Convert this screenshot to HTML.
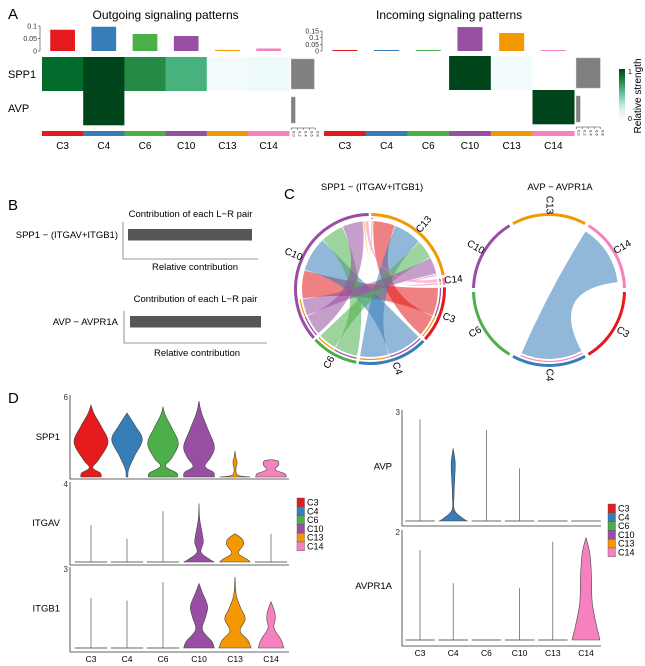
<!DOCTYPE html>
<html><head><meta charset="utf-8"><style>
html,body{margin:0;padding:0;background:#fff;}
svg{display:block;font-family:"Liberation Sans",Arial,sans-serif;}
</style></head><body>
<svg id="fig" width="645" height="666" viewBox="0 0 645 666" xmlns="http://www.w3.org/2000/svg">
<defs>
<linearGradient id="gstr" x1="0" y1="0" x2="0" y2="1">
<stop offset="0" stop-color="#00441b"/><stop offset="0.25" stop-color="#238b45"/><stop offset="0.5" stop-color="#66c2a4"/><stop offset="0.75" stop-color="#ccece6"/><stop offset="1" stop-color="#f7fcfd"/>
</linearGradient>
</defs>
</svg>
<script>
// ---------- data ----------
const clusters=['C3','C4','C6','C10','C13','C14'];
const clusterColors=['#e41a1c','#377eb8','#4daf4a','#984ea3','#f39800','#f781bf'];
const pathways=['SPP1','AVP'];
const outBarValues=[0.085,0.097,0.068,0.060,0.003,0.010];
const inBarValues=[0.002,0.002,0.002,0.180,0.135,0.002];
const outBarTicks=[0,0.05,0.1];
const inBarTicks=[0,0.05,0.1,0.15];
const outHeatSPP1=[0.88,1,0.75,0.6,0.02,0.06];
const outHeatAVP=[0,1,0,0,0,0];
const inHeatSPP1=[0,0,0,1,0.02,0];
const inHeatAVP=[0,0,0,0,0,1];
const outRowTotals=[0.46,0.08];
const inRowTotals=[0.48,0.08];
const lrPairs=['SPP1 − (ITGAV+ITGB1)','AVP − AVPR1A'];
const lrContribution=[1,1];
const chordOrder=['C13','C14','C3','C4','C6','C10'];
const chordSrc=['C3','C3','C4','C4','C6','C6','C10','C10','C13','C14','C14'];
const chordTgt=['C10','C13','C10','C13','C10','C13','C10','C13','C10','C10','C13'];
const chordVal=[0.045,0.035,0.055,0.045,0.037,0.030,0.033,0.027,0.003,0.006,0.004];
const avpOrder=['C13','C14','C3','C4','C6','C10'];
const avpSectorSize=[1,1,1,1,1,1];
const avpSrc=['C4'];
const avpTgt=['C14'];
const avpVal=[1];
const spp1Violins=[
 [[0,0.6],[0.3,0.55],[0.7,0.1],[1.3,0.45],[2.6,1.0],[3.8,0.6],[4.7,0.2],[5.4,0]],
 [[0,0.05],[0.6,0.1],[1.6,0.45],[2.8,0.9],[3.8,0.5],[4.8,0]],
 [[0,0.85],[0.3,0.8],[0.8,0.15],[1.4,0.5],[2.5,0.9],[3.6,0.55],[4.6,0.15],[5.25,0]],
 [[0,0.9],[0.35,0.85],[0.8,0.35],[1.5,0.7],[2.3,0.9],[3.5,0.55],[4.8,0.15],[5.7,0]],
 [[0,0.9],[0.12,0.2],[0.5,0.05],[1.1,0.12],[1.5,0.05],[1.95,0]],
 [[0,0.9],[0.25,0.8],[0.55,0.25],[0.9,0.45],[1.2,0.4],[1.3,0]]];
const itgavViolins=[
 [[0,0.95],[0.04,0.03],[1.7,0.015],[1.9,0]],
 [[0,0.95],[0.04,0.03],[1.1,0.015],[1.2,0]],
 [[0,0.95],[0.04,0.03],[2.4,0.015],[2.6,0]],
 [[0,0.9],[0.15,0.6],[0.5,0.12],[1.0,0.25],[1.4,0.2],[2.2,0.04],[3.0,0]],
 [[0,0.9],[0.15,0.7],[0.45,0.2],[0.9,0.5],[1.2,0.4],[1.45,0]],
 [[0,0.95],[0.04,0.03],[1.3,0.015],[1.45,0]]];
const itgb1Violins=[
 [[0,0.95],[0.04,0.03],[1.7,0.015],[1.9,0]],
 [[0,0.95],[0.04,0.03],[1.6,0.015],[1.8,0]],
 [[0,0.95],[0.04,0.03],[2.3,0.015],[2.5,0]],
 [[0,0.9],[0.25,0.75],[0.7,0.2],[1.2,0.4],[1.6,0.5],[2.1,0.2],[2.45,0]],
 [[0,0.95],[0.3,0.75],[0.65,0.3],[1.1,0.6],[1.5,0.35],[2.0,0.08],[2.7,0]],
 [[0,0.75],[0.3,0.6],[0.75,0.18],[1.1,0.25],[1.4,0.2],[1.75,0]]];
const avpViolins=[
 [[0,0.95],[0.04,0.03],[2.6,0.015],[2.8,0]],
 [[0,0.9],[0.08,0.6],[0.3,0.08],[0.7,0.05],[1.2,0.1],[1.6,0.13],[2.0,0]],
 [[0,0.95],[0.04,0.03],[2.3,0.015],[2.5,0]],
 [[0,0.95],[0.04,0.03],[1.3,0.015],[1.45,0]],
 [[0,0.95],[0.02,0]],
 [[0,0.95],[0.02,0]]];
const avpr1aViolins=[
 [[0,0.95],[0.03,0.03],[1.5,0.015],[1.67,0]],
 [[0,0.95],[0.03,0.03],[0.95,0.015],[1.05,0]],
 [[0,0.95],[0.02,0]],
 [[0,0.95],[0.03,0.03],[0.86,0.015],[0.96,0]],
 [[0,0.95],[0.03,0.03],[1.7,0.015],[1.82,0]],
 [[0,0.9],[0.3,0.65],[0.7,0.4],[1.2,0.35],[1.6,0.25],[1.9,0]]];

// ---------- helpers ----------
const NS='http://www.w3.org/2000/svg';
const svg=document.getElementById('fig');
function mk(tag,attrs,parent){const e=document.createElementNS(NS,tag);for(const k in attrs)e.setAttribute(k,attrs[k]);(parent||svg).appendChild(e);return e;}
function txt(s,attrs,parent){const e=mk('text',attrs,parent);e.textContent=s;return e;}
const heatStops=['#f7fcfd','#e5f5f9','#ccece6','#99d8c9','#66c2a4','#41ae76','#238b45','#006d2c','#00441b'];
function hex(c){return [1,3,5].map(i=>parseInt(c.substr(i,2),16));}
function heatColor(v){if(v<=0)return '#ffffff';const t=v*(heatStops.length-1);const i=Math.min(Math.floor(t),heatStops.length-2);const f=t-i;const a=hex(heatStops[i]),b=hex(heatStops[i+1]);return 'rgb('+a.map((x,k)=>Math.round(x+(b[k]-x)*f)).join(',')+')';}
function colorOf(c){return clusterColors[clusters.indexOf(c)];}

// ---------- letters ----------
[['A',8,19],['B',8,210],['C',284,199],['D',8,403]].forEach(l=>{
 const t=txt(l[0],{x:l[1],y:l[2],'font-size':15,fill:'#000'});
 
 
});

// ---------- panel A ----------
function heatPanel(cfg){
 const g=mk('g',{});
 
 
 const t=txt(cfg.title,{x:cfg.x0+cfg.colW*3,y:19,'font-size':12,'text-anchor':'middle'},g);
 
 
 const by=v=>51-v*cfg.barScale;
 const ax=mk('line',{x1:cfg.x0-2,x2:cfg.x0-2,y1:by(cfg.ticks[cfg.ticks.length-1]),y2:51,stroke:'#555','stroke-width':0.7},g);
 
 
 cfg.ticks.forEach(v=>{
  const tl=txt(String(v),{x:cfg.x0-5,y:by(v)+2.5,'font-size':7,'text-anchor':'end',fill:'#333'},g);
  
  
  const tk=mk('line',{x1:cfg.x0-4,x2:cfg.x0-2,y1:by(v),y2:by(v),stroke:'#555','stroke-width':0.7},g);
  
  
 });
 clusters.forEach((c,i)=>{
  const v=cfg.bars[i];const h=Math.max(v*cfg.barScale,1);
  const b=mk('rect',{x:cfg.x0+i*cfg.colW+cfg.colW*0.2,y:51-h,width:cfg.colW*0.6,height:h,fill:clusterColors[i]},g);
  
  
 });
 const rows=[cfg.heat1,cfg.heat2];
 rows.forEach((row,r)=>{
  const y=cfg.rowY+r*cfg.rowH;
  row.forEach((v,i)=>{
   const cell=mk('rect',{x:cfg.x0+i*cfg.colW,y:y,width:cfg.colW+0.3,height:cfg.rowH+0.3,fill:heatColor(v)},g);
   
   
  });
  const tw=cfg.totals[r]*50;
  const sb=mk('rect',{x:cfg.x0+6*cfg.colW+2,y:y+2+(r?4:0),width:tw,height:cfg.rowH-4-(r?4:0),fill:'#808080',stroke:'#aaa','stroke-width':0.5},g);
  
  
  if(cfg.rowLabels){
   const rl=txt(pathways[r],{x:8,y:y+cfg.rowH/2+4,'font-size':11},g);
   
   
  }
 });
 const sx=cfg.x0+6*cfg.colW+2, sy=cfg.rowY+2*cfg.rowH+3;
 const sa=mk('line',{x1:sx,x2:sx+24,y1:sy,y2:sy,stroke:'#333','stroke-width':0.6},g);
 
 
 for(let k=0;k<5;k++){
  const tk=mk('line',{x1:sx+k*6,x2:sx+k*6,y1:sy,y2:sy+2,stroke:'#333','stroke-width':0.5},g);
  
  
  const tl=txt('0.'+(k*2),{x:0,y:0,'font-size':4,transform:'translate('+(sx+k*6+1.5)+','+(sy+3)+') rotate(90)'},g);
  
  
 }
 clusters.forEach((c,i)=>{
  const cb=mk('rect',{x:cfg.x0+i*cfg.colW,y:131,width:cfg.colW+0.3,height:5,fill:clusterColors[i]},g);
  
  
  const cl=txt(c,{x:cfg.x0+i*cfg.colW+cfg.colW/2,y:149,'font-size':10,'text-anchor':'middle'},g);
  
  
 });
}
heatPanel({name:'outgoing-heatmap',title:'Outgoing signaling patterns',x0:42,colW:41.2,bars:outBarValues,barScale:250,ticks:outBarTicks,heat1:outHeatSPP1,heat2:outHeatAVP,totals:outRowTotals,rowY:57,rowH:34,rowLabels:true});
heatPanel({name:'incoming-heatmap',title:'Incoming signaling patterns',x0:324,colW:41.7,bars:inBarValues,barScale:133,ticks:inBarTicks,heat1:inHeatSPP1,heat2:inHeatAVP,totals:inRowTotals,rowY:56,rowH:34,rowLabels:false});
const cbar=mk('rect',{x:619,y:69,width:6,height:50,fill:'url(#gstr)'});


[['1',72],['0',119]].forEach(l=>{const t=txt(l[0],{x:628,y:l[1]+2,'font-size':7});
 
 });
const rs=txt('Relative strength',{x:0,y:0,'font-size':10,'text-anchor':'middle',transform:'translate(641,96) rotate(-90)'});



// ---------- panel B ----------
[{y0:214,bx:128,bw:124,by:229,ax:123,axTop:222,axB:259,axR:258,lx:195,ly:270},
 {y0:299,bx:130,bw:131,by:316,ax:124,axTop:311,axB:343,axR:267,lx:197,ly:356}].forEach((p,i)=>{
 const g=mk('g',{});
 
 
 const t=txt('Contribution of each L−R pair',{x:(p.ax+p.axR)/2,y:p.y0+3,'font-size':9.5,'text-anchor':'middle'},g);
 
 
 const b=mk('rect',{x:p.bx,y:p.by,width:p.bw*lrContribution[i],height:11.5,fill:'#555'},g);
 
 
 const a1=mk('path',{d:'M'+p.ax+' '+p.axTop+'V'+p.axB+'H'+p.axR,fill:'none',stroke:'#777','stroke-width':0.8},g);
 
 
 const lab=txt(lrPairs[i],{x:118,y:p.by+9,'font-size':9.5,'text-anchor':'end'},g);
 
 
 const xl=txt('Relative contribution',{x:p.lx,y:p.ly,'font-size':9.5,'text-anchor':'middle'},g);
 
 
});

// ---------- panel C ----------
function pol(cx,cy,r,a){const t=a*Math.PI/180;return [cx+r*Math.sin(t),cy-r*Math.cos(t)];}
function arcD(cx,cy,r,a1,a2){const p1=pol(cx,cy,r,a1),p2=pol(cx,cy,r,a2);return 'M'+p1[0].toFixed(2)+' '+p1[1].toFixed(2)+'A'+r+' '+r+' 0 '+((a2-a1)>180?1:0)+' 1 '+p2[0].toFixed(2)+' '+p2[1].toFixed(2);}
function chord(cfg){
 const g=mk('g',{});
 
 
 const tt=txt(cfg.title,{x:cfg.tx,y:190,'font-size':9.5,'text-anchor':'middle'},g);
 
 
 const n=cfg.order.length,gap=cfg.gap;
 const tot=cfg.sizes.reduce((a,b)=>a+b,0);
 const per=(360-n*gap)/tot;
 const sec={};let a=cfg.start;
 cfg.order.forEach((c,i)=>{sec[c]={a1:a,a2:a+cfg.sizes[i]*per,cur:a};a+=cfg.sizes[i]*per+gap;});
 const {cx,cy,r}=cfg;
 // pass 1: outgoing ends; pass 2: incoming ends
 const ends=cfg.src.map((s,i)=>{const w=cfg.val[i]*per*cfg.linkScale;const A=sec[s];const e=[A.cur+cfg.pad,A.cur+w-cfg.pad];A.cur+=w;return e;});
 const tends=cfg.tgt.map((t,i)=>{const w=cfg.val[i]*per*cfg.linkScale;const B=sec[t];const e=[B.cur+cfg.pad,B.cur+w-cfg.pad];B.cur+=w;return e;});
 cfg.src.forEach((s,i)=>{
  const t=cfg.tgt[i];
  const [s1,s2]=ends[i],[t1,t2]=tends[i];
  const ri=r-5;
  const pa1=pol(cx,cy,ri,s1),pb1=pol(cx,cy,ri,t1);
  const d=arcD(cx,cy,ri,s1,s2)+'Q'+cx+' '+cy+' '+pb1[0].toFixed(2)+' '+pb1[1].toFixed(2)+arcD(cx,cy,ri,t1,t2).replace(/^M[^A]*/,'')+'Q'+cx+' '+cy+' '+pa1[0].toFixed(2)+' '+pa1[1].toFixed(2)+'Z';
  const rb=mk('path',{d:d,fill:colorOf(s),'fill-opacity':0.55,stroke:'none'},g);
  
  
  const tr=mk('path',{d:arcD(cx,cy,r-2.5,s1,s2),fill:'none',stroke:colorOf(t),'stroke-width':1.2},g);
  
  
 });
 cfg.order.forEach(c=>{
  const S=sec[c];
  const ar=mk('path',{d:arcD(cx,cy,r+1.5,S.a1,S.a2),fill:'none',stroke:colorOf(c),'stroke-width':3},g);
  
  
  const mid=(S.a1+S.a2)/2;const p=pol(cx,cy,r+11,mid);
  let rot=mid+90;while(rot>180)rot-=360;if(rot>90)rot-=180;if(rot<=-90)rot+=180;
  const lb=txt(c,{x:0,y:0,'font-size':10,'text-anchor':'middle','dominant-baseline':'central',transform:'translate('+p[0].toFixed(1)+','+p[1].toFixed(1)+') rotate('+rot.toFixed(1)+')'},g);
  
  
 });
}
const spp1Sizes=chordOrder.map(c=>{let s=0;chordSrc.forEach((x,i)=>{if(x===c)s+=chordVal[i];if(chordTgt[i]===c)s+=chordVal[i];});return s;});
chord({name:'chord-spp1',title:'SPP1 − (ITGAV+ITGB1)',tx:372,cx:370,cy:289,r:73,order:chordOrder,sizes:spp1Sizes,gap:2,start:1,src:chordSrc,tgt:chordTgt,val:chordVal,linkScale:1,pad:0.3});
chord({name:'chord-avp',title:'AVP − AVPR1A',tx:560,cx:549,cy:290,r:74,order:avpOrder,sizes:avpSectorSize,gap:3,start:-28.5,src:avpSrc,tgt:avpTgt,val:avpVal,linkScale:0.92,pad:0.5});

// ---------- panel D ----------
function smoothSide(pts){
 const out=[];
 for(let i=0;i<pts.length-1;i++){
  const p0=pts[Math.max(i-1,0)],p1=pts[i],p2=pts[i+1],p3=pts[Math.min(i+2,pts.length-1)];
  for(let k=0;k<8;k++){const t=k/8,t2=t*t,t3=t2*t;
   const f=(a,b,c,d)=>0.5*((2*b)+(-a+c)*t+(2*a-5*b+4*c-d)*t2+(-a+3*b-3*c+d)*t3);
   out.push([f(p0[0],p1[0],p2[0],p3[0]),Math.max(0,f(p0[1],p1[1],p2[1],p3[1]))]);}
 }
 out.push(pts[pts.length-1]);return out;
}
function violinPanel(cfg){
 const g=mk('g',{});
 
 
 const ys=v=>cfg.floor-v*(cfg.floor-cfg.top)/cfg.max;
 cfg.violins.forEach((prof,i)=>{
  const cx=cfg.x0+i*cfg.dx;
  const isLine=prof.length<3||prof[1][1]<0.05;
  if(isLine){
   const topV=prof[prof.length-1][0];
   const base=mk('line',{x1:cx-prof[0][1]*cfg.unit,x2:cx+prof[0][1]*cfg.unit,y1:ys(0),y2:ys(0),stroke:'#888','stroke-width':1.2},g);
   
   
   if(topV>0.05){
    const ln=mk('line',{x1:cx,x2:cx,y1:ys(0),y2:ys(topV),stroke:'#555','stroke-width':0.7},g);
    
    
   }
   return;
  }
  const pts=smoothSide(prof);
  let d='M'+(cx-prof[0][1]*cfg.unit).toFixed(2)+' '+ys(0).toFixed(2);
  pts.forEach(p=>{d+='L'+(cx+p[1]*cfg.unit).toFixed(2)+' '+ys(p[0]).toFixed(2);});
  for(let k=pts.length-1;k>=0;k--){const p=pts[k];d+='L'+(cx-p[1]*cfg.unit).toFixed(2)+' '+ys(p[0]).toFixed(2);}
  d+='Z';
  const v=mk('path',{d:d,fill:clusterColors[i],stroke:'#444','stroke-width':0.6},g);
  
  
 });
 const ax=mk('path',{d:'M'+cfg.ax+' '+(cfg.top-2)+'V'+cfg.bottom+'H'+cfg.axR,fill:'none',stroke:'#333','stroke-width':0.8},g);
 
 
 const tl=txt(String(cfg.max),{x:cfg.ax-2,y:cfg.top+3,'font-size':8,'text-anchor':'end',fill:'#333'},g);
 
 
 const gl=txt(cfg.gene,{x:cfg.ax-10,y:(cfg.top+cfg.floor)/2+3,'font-size':9.5,'text-anchor':'end'},g);
 
 
 if(cfg.xlabels){clusters.forEach((c,i)=>{
  const xl=txt(c,{x:cfg.x0+i*cfg.dx,y:cfg.bottom+10,'font-size':8.5,'text-anchor':'middle'},g);
  
  
 });}
}
violinPanel({name:'violin-spp1',gene:'SPP1',violins:spp1Violins,max:6,top:397,floor:477,bottom:479,ax:70,axR:289,x0:91,dx:36,unit:17});
violinPanel({name:'violin-itgav',gene:'ITGAV',violins:itgavViolins,max:4,top:484,floor:562,bottom:565,ax:70,axR:289,x0:91,dx:36,unit:17});
violinPanel({name:'violin-itgb1',gene:'ITGB1',violins:itgb1Violins,max:3,top:569,floor:648,bottom:652,ax:70,axR:289,x0:91,dx:36,unit:17,xlabels:true});
violinPanel({name:'violin-avp',gene:'AVP',violins:avpViolins,max:3,top:412,floor:521,bottom:526,ax:402,axR:601,x0:420,dx:33.2,unit:15.5});
violinPanel({name:'violin-avpr1a',gene:'AVPR1A',violins:avpr1aViolins,max:2,top:532,floor:640,bottom:646,ax:402,axR:601,x0:420,dx:33.2,unit:15.5,xlabels:true});
function legend(x,y,name){
 const g=mk('g',{});
 
 
 clusters.forEach((c,i)=>{
  const s=mk('rect',{x:x,y:y+i*8.8,width:7.5,height:8.8,fill:clusterColors[i],stroke:'#555','stroke-width':0.4},g);
  
  
  const t=txt(c,{x:x+10,y:y+i*8.8+7.5,'font-size':9},g);
  
  
 });
}
legend(297,498,'legend-left');
legend(608,504,'legend-right');
</script>
</body></html>
